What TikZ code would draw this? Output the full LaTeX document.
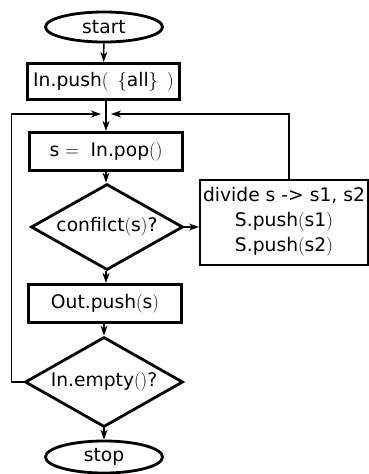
\documentclass[tikz,border=0pt]{standalone}
\usepackage{fontspec}
\setmainfont{DejaVu Sans}
\newfontfamily\lmfont{Latin Modern Roman}
\newcommand\pl{{\lmfont(}}
\newcommand\pr{{\lmfont)}}
\usetikzlibrary{shapes.geometric,arrows.meta}
\begin{document}
\begin{tikzpicture}[x=1pt,y=-1pt,
  txt/.style={font=\fontsize{18.7}{25}\selectfont},
  thickbox/.style={txt,draw,line width=3.2pt,rectangle,inner sep=0pt},
  thinbox/.style={txt,draw,line width=2pt,rectangle,inner sep=0pt,align=center},
  term/.style={txt,draw,line width=2.8pt,ellipse,inner sep=0pt,minimum width=117pt},
  decide/.style={draw,line width=2.8pt,diamond,inner sep=0pt},
  conn/.style={line width=1.4pt,-{Stealth[length=10pt,width=7pt,inset=3pt]}}]
\useasboundingbox (0,0) rectangle (369,474);
\node[term,minimum height=30pt] (start) at (104,27) {start};
\node[thickbox,minimum width=152pt,minimum height=36pt] (push) at (103.5,81.5) {In.push\pl\ \,{\lmfont\{}all{\lmfont\}}\ \,\pr};
\coordinate (J) at (106,114);
\coordinate (Jl) at (101,114);
\coordinate (Jr) at (111,114);
\node[thickbox,minimum width=153pt,minimum height=38pt] (pop) at (106,151.5) {s {\lmfont=}\ \ In.pop\pl\pr};
\node[decide,minimum width=152pt,minimum height=86pt,label={[txt]center:confilct\pl s\pr?}] (conf) at (107,227) {};
\node[thinbox,minimum width=168pt,minimum height=85pt] (div) at (284,222) {divide s -> s1, s2\\S.push\pl s1\pr\\S.push\pl s2\pr};
\node[thickbox,minimum width=153pt,minimum height=38pt] (out) at (105,303.5) {Out.push\pl s\pr};
\node[decide,minimum width=158pt,minimum height=90pt,label={[txt]center:In.empty\pl\pr?}] (emp) at (104,382) {};
\node[term,minimum height=32pt] (stop) at (104,457) {stop};
\draw[conn] (start) -- (push);
\draw[conn] (push.south -| J) -- (pop.north -| J);
\draw[conn] (pop.south -| J) -- (conf.north -| J);
\draw[conn] (conf.east) -- (div.west |- conf.east);
\draw[conn] ([xshift=5pt]div.north) |- (Jr);
\draw[conn] (emp.west) -- ++(-12,0) |- (Jl);
\draw[conn] (out.south -| emp.north) -- (emp.north);
\draw[conn] (conf.south -| J) -- (out.north -| J);
\draw[conn] (emp.south) -- (stop.north);
\end{tikzpicture}
\end{document}
